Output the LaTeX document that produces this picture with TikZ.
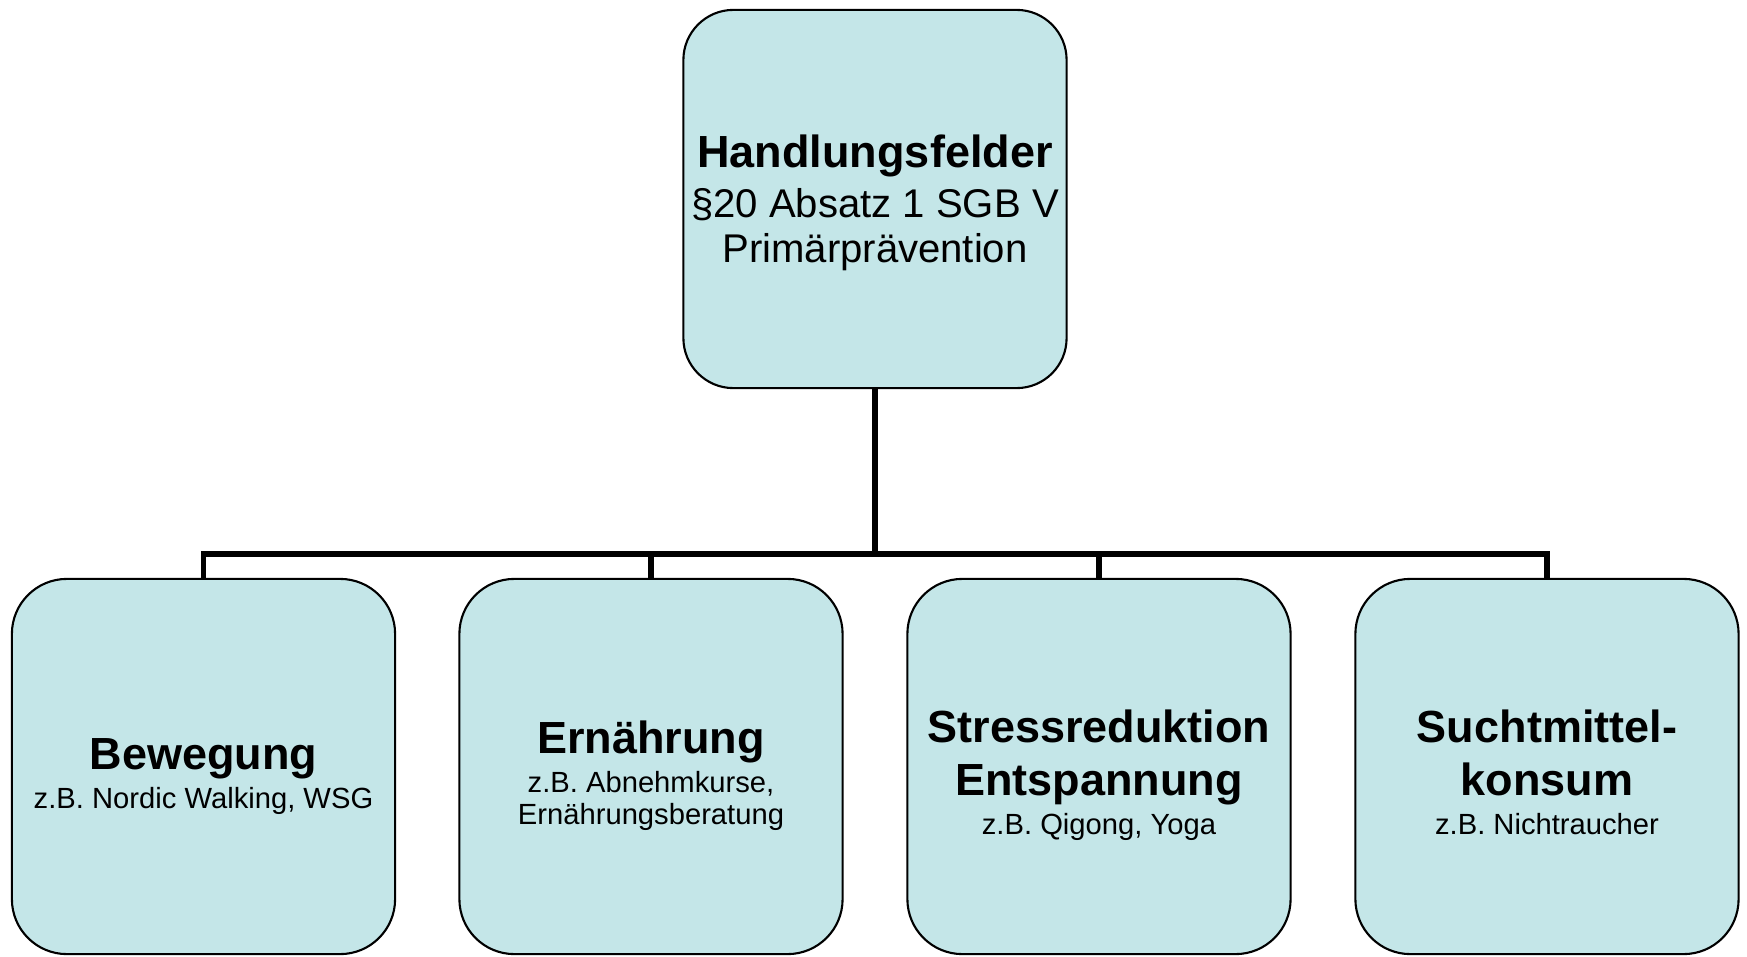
\documentclass[tikz,border=0pt]{standalone}
\usepackage{fontspec}
\setmainfont{Liberation Sans}
\definecolor{boxfill}{RGB}{196,230,232}
\newcommand{\fld}[1]{{\bfseries\fontsize{12.8}{15}\selectfont #1}}
\begin{document}
\begin{tikzpicture}[x=0.01cm,y=-0.01cm,
    box/.style={draw,line width=0.6pt,fill=boxfill,rounded corners=0.55cm,align=center,inner sep=0pt,
        minimum width=3.83cm,minimum height=3.75cm,font={\fontsize{8.3}{9.1}\selectfont\lineskiplimit=-100pt}},
    link/.style={line width=1.45pt}]
            \useasboundingbox (0,0) rectangle (1747,957);

            \node[box,minimum height=3.78cm,rounded corners=0.5cm,font={\fontsize{11.4}{12.8}\selectfont\lineskiplimit=-100pt}] (HF) at (875,199)
                {\fld{\rule{0pt}{11.3pt}Handlungsfelder}\\[1.4pt] §20 Absatz 1 SGB V\\ Primärprävention};

            \node[box] (Bw) at (203.5,766.5) {\fld{\rule{0pt}{14.3pt}Bewegung}\\[2pt] z.B. Nordic Walking, WSG};
            \node[box] (Er) at (651,766.5) {\fld{\rule{0pt}{14.3pt}Ernährung}\\[2pt] z.B. Abnehmkurse,\\ Ernährungsberatung};
            \node[box] (St) at (1099,766.5) {\fld{\rule{0pt}{14.3pt}Stressreduktion}\\[6pt] \fld{Entspannung}\\[2pt] z.B. Qigong, Yoga};
            \node[box] (Su) at (1547,766.5) {\fld{\rule{0pt}{14.3pt}Suchtmittel-}\\[6pt] \fld{konsum}\\[2pt] z.B. Nichtraucher\rule[-1.8pt]{0pt}{1.8pt}};

            \coordinate (bar) at (875,554);
            \foreach \c in {Bw,Er,St,Su}
                \draw[link] (HF.south) -- (HF.south |- bar) -| (\c.north);

        \end{tikzpicture}
\end{document}
